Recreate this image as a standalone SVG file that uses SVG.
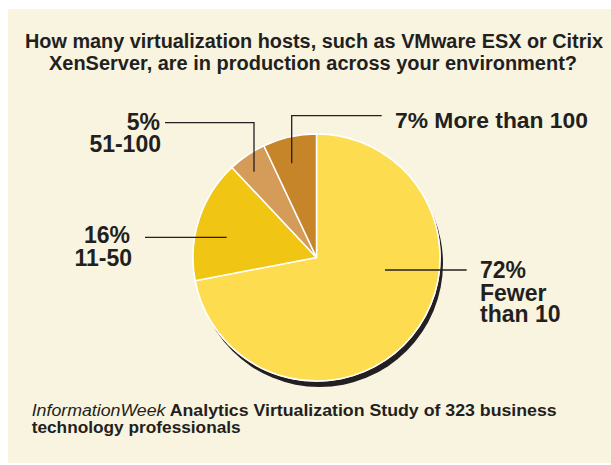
<svg xmlns="http://www.w3.org/2000/svg" width="611" height="465" viewBox="0 0 611 465">
<style>
.t{font-family:"Liberation Sans",Arial,Helvetica,sans-serif;fill:#231f20;}
.b{font-weight:bold;}
.lead{fill:none;stroke:#231f20;stroke-width:1.3;}
.slice{stroke:#ffffff;stroke-width:1.5;stroke-linejoin:round;}
</style>
<rect x="0" y="0" width="611" height="465" fill="#ffffff"/>
<rect x="8" y="9" width="603" height="454" fill="#f8f4df"/>
<g id="title">
<text class="t b" x="314" y="47.7" font-size="20" text-anchor="middle" textLength="578" lengthAdjust="spacingAndGlyphs">How many virtualization hosts, such as VMware ESX or Citrix</text>
<text class="t b" x="313" y="70" font-size="20" text-anchor="middle" textLength="528" lengthAdjust="spacingAndGlyphs">XenServer, are in production across your environment?</text>
</g>
<g id="pie">
<circle cx="319.5" cy="263.5" r="123.5" fill="#231f20"/>
<circle cx="316.5" cy="257.5" r="124.3" fill="#ffffff"/>
<g id="slice-72"><path class="slice" fill="#fddd4f" d="M316.5,257.5 L316.5,134 A123.5,123.5 0 1 1 195.19,280.64 Z"/></g>
<g id="slice-16"><path class="slice" fill="#f0c514" d="M316.5,257.5 L195.19,280.64 A123.5,123.5 0 0 1 231.96,167.47 Z"/></g>
<g id="slice-5"><path class="slice" fill="#d59b59" d="M316.5,257.5 L231.96,167.47 A123.5,123.5 0 0 1 263.92,145.75 Z"/></g>
<g id="slice-7"><path class="slice" fill="#c7852a" d="M316.5,257.5 L263.92,145.75 A123.5,123.5 0 0 1 316.5,134 Z"/></g>
</g>
<g id="connectors">
<polyline class="lead" points="291.7,163.3 291.7,115.7 381.7,115.7"/>
<polyline class="lead" points="165,122.7 254,122.7 254,171.7"/>
<polyline class="lead" points="145,237.3 226.7,237.3"/>
<polyline class="lead" points="385,270 466.7,270"/>
</g>
<g id="label-7">
<text class="t b" x="395" y="127.7" font-size="22.5" textLength="193" lengthAdjust="spacingAndGlyphs">7% More than 100</text>
</g>
<g id="label-5">
<text class="t b" x="160" y="130" font-size="23" text-anchor="end">5%</text>
<text class="t b" x="161" y="151.7" font-size="23" text-anchor="end">51-100</text>
</g>
<g id="label-16">
<text class="t b" x="130" y="243.3" font-size="23" text-anchor="end">16%</text>
<text class="t b" x="132" y="265.7" font-size="23" text-anchor="end">11-50</text>
</g>
<g id="label-72">
<text class="t b" x="480" y="278.3" font-size="23">72%</text>
<text class="t b" x="480" y="300.5" font-size="23">Fewer</text>
<text class="t b" x="480" y="321.7" font-size="23">than 10</text>
</g>
<g id="footer">
<text class="t" x="31.7" y="415.5" font-size="16" textLength="525" lengthAdjust="spacingAndGlyphs"><tspan font-style="italic">InformationWeek</tspan><tspan font-weight="bold"> Analytics Virtualization Study of 323 business</tspan></text>
<text class="t b" x="31.7" y="433.3" font-size="16" textLength="209" lengthAdjust="spacingAndGlyphs">technology professionals</text>
</g>
</svg>
